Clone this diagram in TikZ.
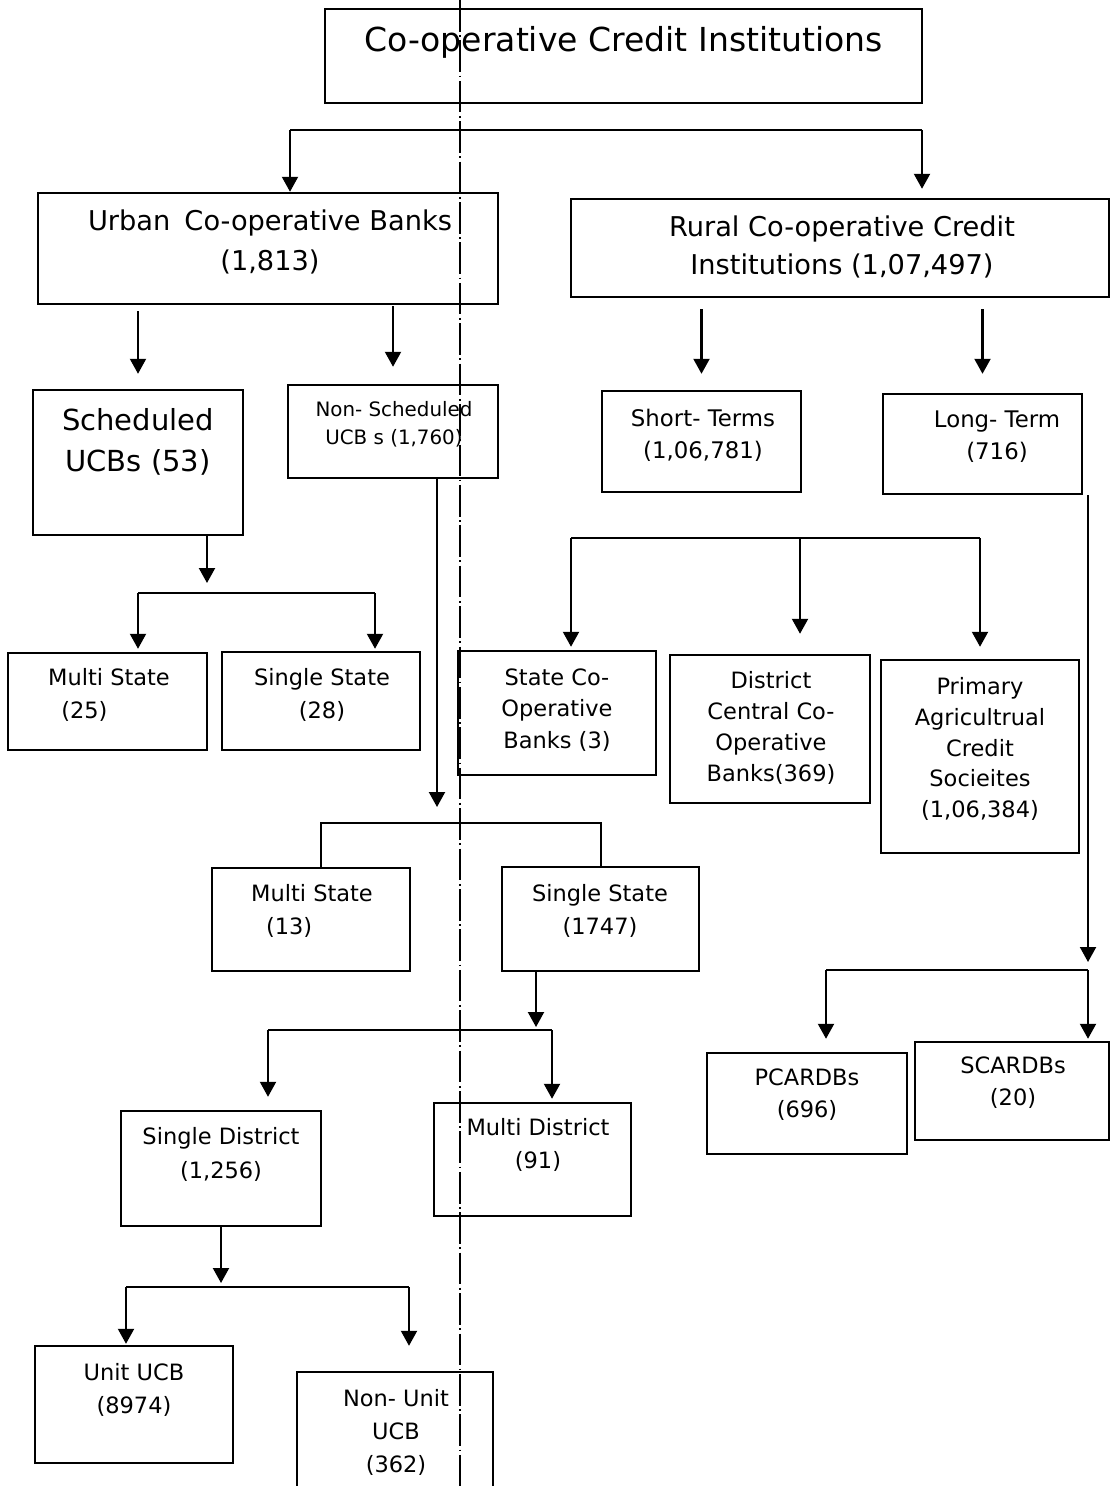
\documentclass[tikz,border=0pt]{standalone}
\usepackage{fontspec}
\setmainfont{DejaVu Sans}
\usetikzlibrary{positioning}
\usetikzlibrary{calc}
\usetikzlibrary{arrows.meta}

\def\px{0.02cm}

\begin{document}
\begin{tikzpicture}[
      , x=\px, y=-\px
      , box/.style 2 args={draw, line width=1.4pt, inner sep=0pt, minimum width=#1*\px, minimum height=#2*\px}
      , lbl/.style={align=center, inner sep=0pt, font=\fontsize{12.8}{19}\selectfont}
      , conn/.style={line width=1.2pt}
      , arr/.style={conn, -{Triangle[width=0.32cm, length=0.3cm]}}
      , cutline/.style={line width=0.6pt, dash pattern=on 18pt off 2pt on 1pt off 2pt}
      ]

      \useasboundingbox (0,0) rectangle (1111,1486);

      \node[box={597}{94}] (cci) at (623.5,56) {};
      \node[lbl, font=\fontsize{18.8}{22}\selectfont] (cci-text) at (623.5,42) {Co-operative Credit Institutions};

      \node[box={460}{111}] (urban) at (268,248.5) {};
      \node[lbl, font=\fontsize{15.5}{22.6}\selectfont] (urban-text) at (270,242) {Urban\hspace{0.2em} Co-operative Banks\\(1,813)};
      \node[box={538}{98}] (rural) at (840,248) {};
      \node[lbl, font=\fontsize{15.5}{21.6}\selectfont] (rural-text) at (842,247) {Rural Co-operative Credit\\Institutions (1,07,497)};

      \node[box={210}{145}] (sched) at (138,462.5) {};
      \node[lbl, font=\fontsize{16.5}{23.3}\selectfont] (sched-text) at (138,441.5) {Scheduled\\UCBs (53)};
      \node[box={210}{93}] (nonsched) at (393,431.5) {};
      \node[lbl, font=\fontsize{11.3}{16}\selectfont] (nonsched-text) at (394,424) {Non- Scheduled\\UCB s (1,760)};
      \node[box={199}{101}] (short) at (701.5,441.5) {};
      \node[lbl, font=\fontsize{13}{18.2}\selectfont] (short-text) at (703,435) {Short- Terms\\(1,06,781)};
      \node[box={199}{100}] (long) at (982.5,444) {};
      \node[lbl, font=\fontsize{13}{18.2}\selectfont] (long-text) at (997,437) {Long- Term\\(716)};

      \node[box={199}{97}] (multi25) at (107.5,701.5) {};
      \node[lbl] (multi25-text) at (109,695) {Multi State\\(25)\hspace*{28pt}};
      \node[box={198}{98}] (single28) at (321,701) {};
      \node[lbl] (single28-text) at (322,695) {Single State\\(28)};

      \node[box={198}{124}] (statecoop) at (557,713) {};
      \node[lbl, font=\fontsize{12.8}{17.8}\selectfont] (statecoop-text) at (557,710) {State Co-\\Operative\\Banks (3)};
      \node[box={200}{148}] (district) at (770,729) {};
      \node[lbl, font=\fontsize{12.8}{17.6}\selectfont] (district-text) at (771,728) {District\\Central Co-\\Operative\\Banks(369)};
      \node[box={198}{193}] (primary) at (980,756.5) {};
      \node[lbl, font=\fontsize{12.8}{17.6}\selectfont] (primary-text) at (980,749) {Primary\\Agricultrual\\Credit\\Socieites\\(1,06,384)};

      \node[box={198}{103}] (multi13) at (311,919.5) {};
      \node[lbl] (multi13-text) at (312,911) {Multi State\\(13)\hspace*{26pt}};
      \node[box={197}{104}] (single1747) at (600.5,919) {};
      \node[lbl] (single1747-text) at (600,911) {Single State\\(1747)};

      \node[box={200}{115}] (singledist) at (221,1168.5) {};
      \node[lbl] (singledist-text) at (221,1154.5) {Single District\\(1,256)};
      \node[box={197}{113}] (multidist) at (532.5,1159.5) {};
      \node[lbl] (multidist-text) at (538,1145) {Multi District\\(91)};

      \node[box={200}{101}] (pcardbs) at (807,1103.5) {};
      \node[lbl, font=\fontsize{12.8}{18.2}\selectfont] (pcardbs-text) at (807,1095) {PCARDBs\\(696)};
      \node[box={194}{98}] (scardbs) at (1012,1091) {};
      \node[lbl, font=\fontsize{12.8}{18.2}\selectfont] (scardbs-text) at (1013,1083) {SCARDBs\\(20)};

      \node[box={198}{117}] (unitucb) at (134,1404.5) {};
      \node[lbl] (unitucb-text) at (134,1390) {Unit UCB\\(8974)};
      \node[box={196}{128}] (nonunit) at (395,1436) {};
      \node[lbl] (nonunit-text) at (396,1432.5) {Non- Unit\\UCB\\(362)};

      \coordinate (cut-top) at (460,0);
      \coordinate (cut-bottom) at (460,1486);
      \draw[cutline] (cut-top) -- (cut-bottom);

      \coordinate (top-bar-l) at (290,130);
      \coordinate (top-bar-r) at (922,130);
      \draw[conn] (top-bar-l) -- (top-bar-r);
      \draw[arr] (top-bar-l) -- (top-bar-l |- urban.north);
      \draw[arr, shorten >=0.18cm] (top-bar-r) -- (top-bar-r |- rural.north);

      \draw[arr, shorten <=0.12cm, shorten >=0.3cm] (urban.south -| sched.north) -- (sched.north);
      \draw[arr, shorten <=0.02cm, shorten >=0.34cm] (urban.south -| nonsched.north) -- (nonsched.north);
      \draw[arr, shorten <=0.22cm, shorten >=0.32cm] (rural.south -| short.north) -- (short.north);
      \draw[arr, shorten <=0.22cm, shorten >=0.38cm] (rural.south -| long.north) -- (long.north);

      \coordinate (sched-bar-l) at (138,593);
      \coordinate (sched-bar-m) at (207,593);
      \coordinate (sched-bar-r) at (375,593);
      \draw[arr, shorten >=0.2cm] (sched.south -| sched-bar-m) -- (sched-bar-m);
      \draw[conn] (sched-bar-l) -- (sched-bar-r);
      \draw[arr, shorten >=0.06cm] (sched-bar-l) -- (sched-bar-l |- multi25.north);
      \draw[arr, shorten >=0.04cm] (sched-bar-r) -- (sched-bar-r |- single28.north);

      \coordinate (ns-bar-l) at (321,823);
      \coordinate (ns-bar-m) at (437,823);
      \coordinate (ns-bar-r) at (601,823);
      \draw[arr, shorten >=0.32cm] (nonsched.south -| ns-bar-m) -- (ns-bar-m);
      \draw[conn] (ns-bar-l |- multi13.north) -- (ns-bar-l) -- (ns-bar-r) -- (ns-bar-r |- single1747.north);

      \coordinate (st-bar-l) at (571,538);
      \coordinate (st-bar-m) at (800,538);
      \coordinate (st-bar-r) at (980,538);
      \draw[conn] (st-bar-l) -- (st-bar-r);
      \draw[arr, shorten >=0.06cm] (st-bar-l) -- (st-bar-l |- statecoop.north);
      \draw[arr, shorten >=0.4cm] (st-bar-m) -- (st-bar-m |- district.north);
      \draw[arr, shorten >=0.24cm] (st-bar-r) -- (st-bar-r |- primary.north);

      \coordinate (lt-bar-l) at (826,970);
      \coordinate (lt-bar-r) at (1088,970);
      \draw[arr, shorten >=0.16cm] (long.south -| lt-bar-r) -- (lt-bar-r);
      \draw[conn] (lt-bar-l) -- (lt-bar-r);
      \draw[arr, shorten >=0.26cm] (lt-bar-l) -- (lt-bar-l |- pcardbs.north);
      \draw[arr, shorten >=0.04cm] (lt-bar-r) -- (lt-bar-r |- scardbs.north);

      \coordinate (ss-bar-l) at (268,1030);
      \coordinate (ss-bar-m) at (536,1030);
      \coordinate (ss-bar-r) at (552,1030);
      \draw[arr, shorten >=0.06cm] (single1747.south -| ss-bar-m) -- (ss-bar-m);
      \draw[conn] (ss-bar-l) -- (ss-bar-r);
      \draw[arr, shorten >=0.26cm] (ss-bar-l) -- (ss-bar-l |- singledist.north);
      \draw[arr, shorten >=0.06cm] (ss-bar-r) -- (ss-bar-r |- multidist.north);

      \coordinate (sd-bar-l) at (126,1287);
      \coordinate (sd-bar-m) at (221,1287);
      \coordinate (sd-bar-r) at (409,1287);
      \draw[arr, shorten >=0.08cm] (singledist.south -| sd-bar-m) -- (sd-bar-m);
      \draw[conn] (sd-bar-l) -- (sd-bar-r);
      \draw[arr, shorten >=0.02cm] (sd-bar-l) -- (sd-bar-l |- unitucb.north);
      \draw[arr, shorten >=0.5cm] (sd-bar-r) -- (sd-bar-r |- nonunit.north);
    \end{tikzpicture}
\end{document}
